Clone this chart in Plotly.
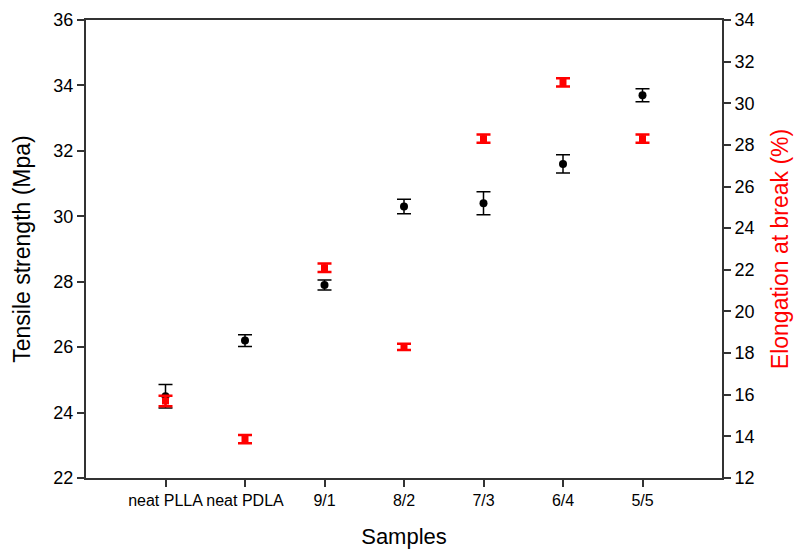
import plotly.graph_objects as go

samples = ["neat PLLA", "neat PDLA", "9/1", "8/2", "7/3", "6/4", "5/5"]
tensile = [24.5, 26.2, 27.9, 30.3, 30.4, 31.6, 33.7]
tensile_err = [0.36, 0.18, 0.15, 0.22, 0.35, 0.28, 0.2]
elong = [15.7, 13.87, 22.1, 18.3, 28.3, 31.0, 28.3]
elong_err = [0.25, 0.2, 0.2, 0.15, 0.2, 0.2, 0.2]

font = "Liberation Sans, Arial, sans-serif"
axcol = "#333333"

fig = go.Figure()
fig.add_trace(go.Scatter(
    x=samples, y=tensile, mode="markers",
    marker=dict(color="black", size=8, symbol="circle"),
    error_y=dict(type="data", array=tensile_err, color="black", thickness=1.5, width=7),
    showlegend=False))
fig.add_trace(go.Scatter(
    x=samples, y=elong, mode="markers", yaxis="y2",
    marker=dict(color="red", size=7, symbol="square"),
    error_y=dict(type="data", array=elong_err, color="red", thickness=2.5, width=7),
    showlegend=False))

fig.update_layout(
    width=794, height=549,
    margin=dict(l=86, r=72, t=20, b=71),
    paper_bgcolor="white", plot_bgcolor="white",
    font=dict(family=font, size=16, color="black"),
    xaxis=dict(
        type="category", categoryorder="array", categoryarray=samples,
        range=[-1, 7], showgrid=False, zeroline=False, automargin=False,
        showline=True, linecolor=axcol, linewidth=2, mirror=True,
        ticks="outside", ticklen=7, tickcolor=axcol, tickwidth=1.5,
        tickfont=dict(size=16),
        title=dict(text="Samples", font=dict(size=22), standoff=20)),
    yaxis=dict(
        range=[22, 36], dtick=2, showgrid=False, zeroline=False, automargin=False,
        showline=True, linecolor=axcol, linewidth=2,
        ticks="outside", ticklen=7, tickcolor=axcol, tickwidth=1.5,
        tickfont=dict(size=18),
        title=dict(text="Tensile strength (Mpa)", font=dict(size=23), standoff=16)),
    yaxis2=dict(
        overlaying="y", side="right", automargin=False,
        range=[12, 34], dtick=2, showgrid=False, zeroline=False,
        showline=True, linecolor=axcol, linewidth=2,
        ticks="outside", ticklen=7, tickcolor=axcol, tickwidth=1.5,
        tickfont=dict(size=18),
        title=dict(text="Elongation at break (%)", font=dict(size=23, color="red"), standoff=18)),
)

fig.write_html("out.html")
